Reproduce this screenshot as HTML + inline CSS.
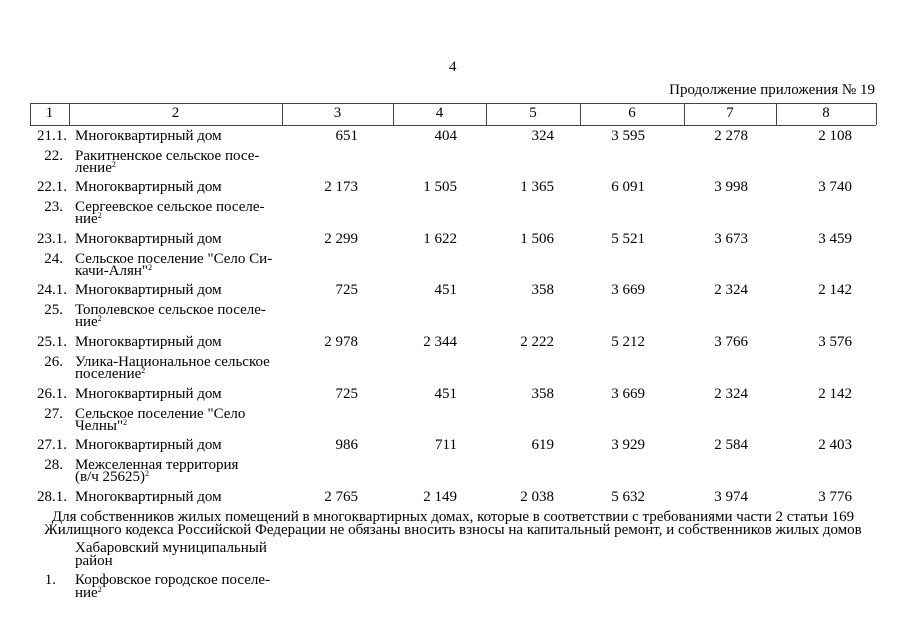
<!DOCTYPE html>
<html><head><meta charset="utf-8"><style>
body{margin:0;background:#fff;width:905px;height:640px;position:relative;overflow:hidden;font-family:"Liberation Serif","DejaVu Serif",serif;font-size:15px;color:#000}
.t{position:absolute;line-height:13px;white-space:nowrap}
.r{position:absolute;line-height:13px;white-space:nowrap;text-align:right}
.c{position:absolute;line-height:13px;text-align:center;white-space:nowrap}
sup{font-size:8px;vertical-align:5px;line-height:0}
.v{position:absolute;top:103px;height:22px;width:1px;background:#444}
</style></head><body>
<div class="t" style="left:449px;top:61px">4</div>
<div class="r" style="right:30px;top:84px">Продолжение приложения № 19</div>
<div style="position:absolute;left:30px;top:103px;width:846px;height:21px;border:1px solid #444;border-width:1px 0"></div>
<div class="v" style="left:30px"></div><div class="v" style="left:69px"></div><div class="v" style="left:282px"></div><div class="v" style="left:393px"></div><div class="v" style="left:486px"></div><div class="v" style="left:580px"></div><div class="v" style="left:684px"></div><div class="v" style="left:776px"></div><div class="v" style="left:876px"></div>
<div class="c" style="left:30px;width:39px;top:107px">1</div>
<div class="c" style="left:69px;width:213px;top:107px">2</div>
<div class="c" style="left:282px;width:111px;top:107px">3</div>
<div class="c" style="left:393px;width:93px;top:107px">4</div>
<div class="c" style="left:486px;width:94px;top:107px">5</div>
<div class="c" style="left:580px;width:104px;top:107px">6</div>
<div class="c" style="left:684px;width:92px;top:107px">7</div>
<div class="c" style="left:776px;width:100px;top:107px">8</div>
<div id="rows"></div>
<script>
var d=[["21.1.","651","404","324","3 595","2 278","2 108"],
["22.","Ракитненское сельское посе-","ление"],
["22.1.","2 173","1 505","1 365","6 091","3 998","3 740"],
["23.","Сергеевское сельское поселе-","ние"],
["23.1.","2 299","1 622","1 506","5 521","3 673","3 459"],
["24.","Сельское поселение \"Село Си-","качи-Алян\""],
["24.1.","725","451","358","3 669","2 324","2 142"],
["25.","Тополевское сельское поселе-","ние"],
["25.1.","2 978","2 344","2 222","5 212","3 766","3 576"],
["26.","Улика-Национальное сельское","поселение"],
["26.1.","725","451","358","3 669","2 324","2 142"],
["27.","Сельское поселение \"Село","Челны\""],
["27.1.","986","711","619","3 929","2 584","2 403"],
["28.","Межселенная территория","(в/ч 25625)"],
["28.1.","2 765","2 149","2 038","5 632","3 974","3 776"]];
var rights=[905-358,905-457,905-554,905-645,905-748,905-852];
var h="";
for(var i=0;i<8;i++){var y=Math.round(129.5+i*51.6);var r=d[i*2];
h+='<div class="r" style="right:'+(905-67)+'px;top:'+y+'px">'+r[0]+'</div>';
h+='<div class="t" style="left:75px;top:'+y+'px">Многоквартирный дом</div>';
for(var j=0;j<6;j++)h+='<div class="r" style="right:'+rights[j]+'px;top:'+y+'px">'+r[j+1]+'</div>';
if(i<7){var s=d[i*2+1];var y2=y+20;
h+='<div class="r" style="right:'+(905-63)+'px;top:'+y2+'px">'+s[0]+'</div>';
h+='<div class="t" style="left:75px;top:'+y2+'px">'+s[1]+'</div>';
h+='<div class="t" style="left:75px;top:'+(y2+12)+'px">'+s[2]+'<sup>2</sup></div>';}}
document.getElementById("rows").innerHTML=h;
</script>
<div class="c" style="left:30px;width:846px;top:511px">Для собственников жилых помещений в многоквартирных домах, которые в соответствии с требованиями части 2 статьи 169<br>Жилищного кодекса Российской Федерации не обязаны вносить взносы на капитальный ремонт, и собственников жилых домов</div>
<div class="t" style="left:75px;top:542px">Хабаровский муниципальный<br>район</div>
<div class="r" style="right:849px;top:574px">1.</div>
<div class="t" style="left:75px;top:574px">Корфовское городское поселе-<br>ние<sup>2</sup></div>
</body></html>
